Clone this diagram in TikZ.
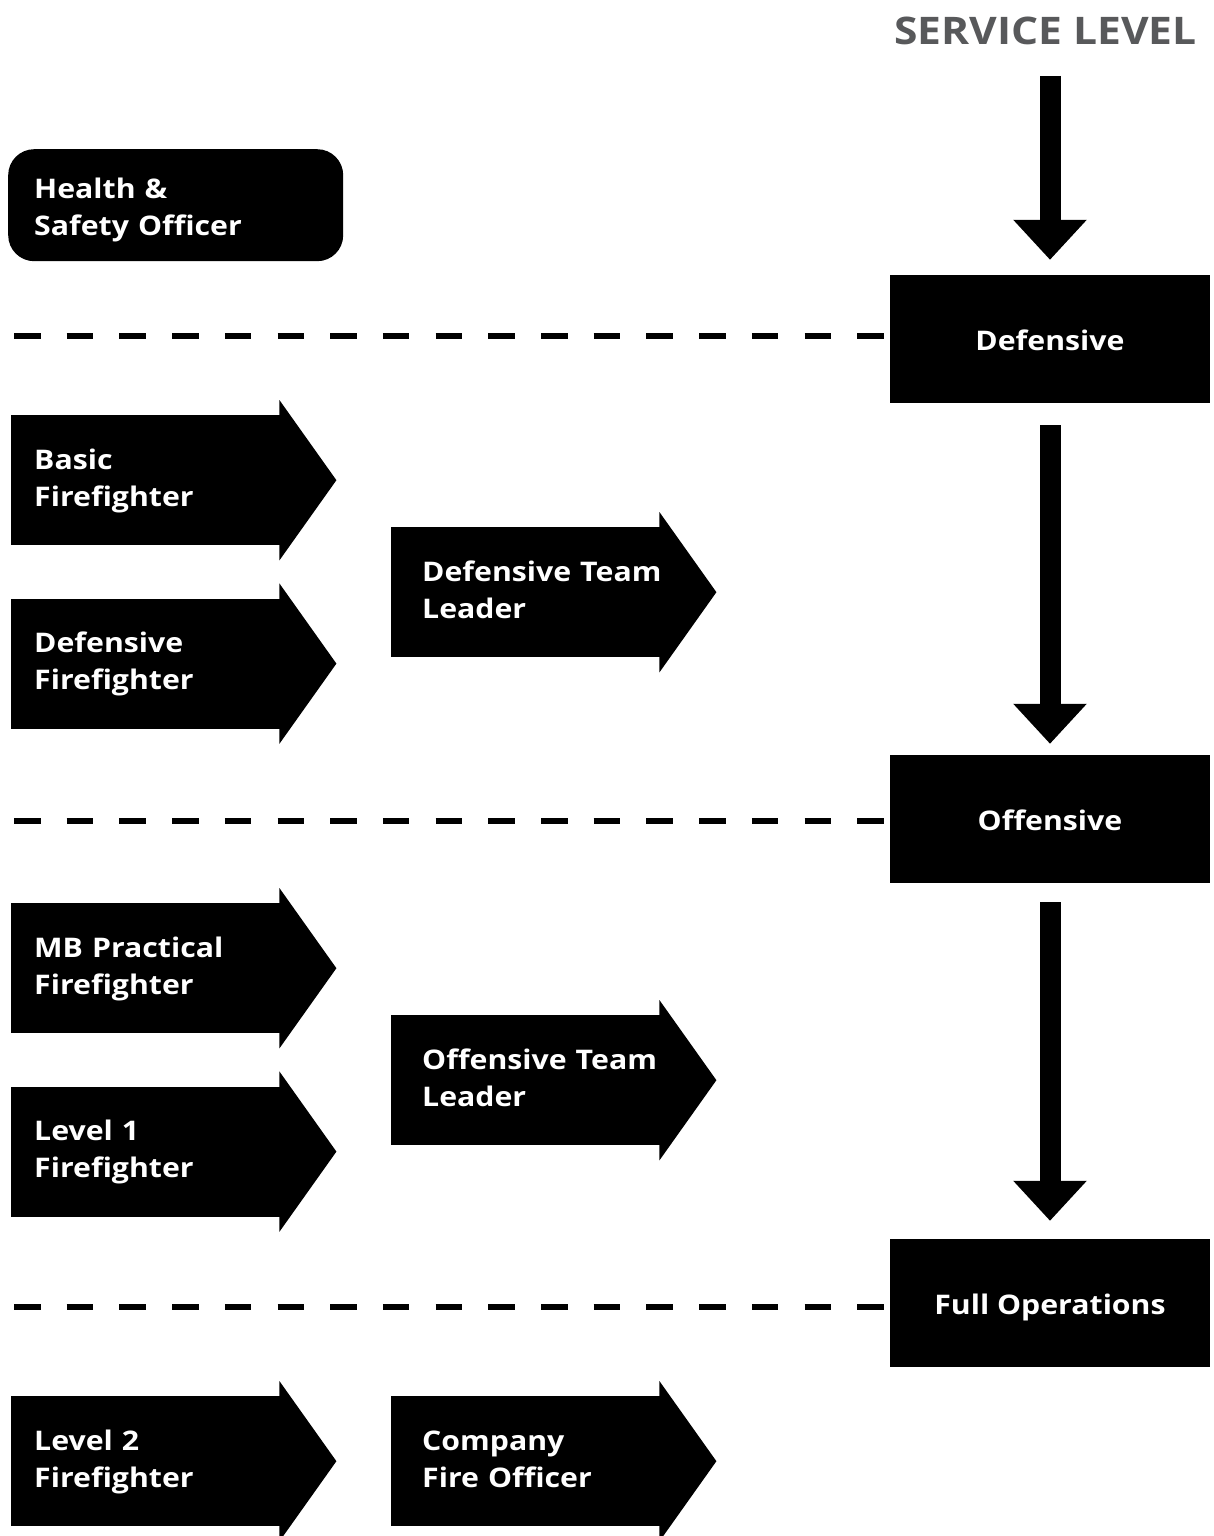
\documentclass[tikz,border=0pt]{standalone}
\usepackage{fontspec}
\setmainfont{Open Sans}[FakeStretch=1.12]
\usetikzlibrary{arrows.meta, positioning}
\definecolor{titlegray}{HTML}{58595B}
\newcommand{\stagefont}{\bfseries\fontsize{27}{37}\selectfont}
\tikzstyle{stage}    = [rectangle, fill=black, text=white, anchor=north west,
                        minimum height=130pt, text width=223pt, inner xsep=23pt,
                        inner ysep=0pt, align=left, font=\stagefont,
                        execute at begin node=\strut, execute at end node=\strut]
\tikzstyle{stage2}   = [stage, text width=207pt, inner xsep=31pt]
\tikzstyle{level}    = [rectangle, fill=black, text=white, minimum width=320pt,
                        minimum height=128pt, text height=22pt, text depth=0pt,
                        font=\stagefont]
\tikzstyle{officer}  = [rectangle, rounded corners=26pt, fill=black, text=white,
                        anchor=north west, minimum height=112pt, text width=283pt,
                        inner xsep=26pt, inner ysep=0pt, align=left, font=\stagefont,
                        execute at begin node=\rule{0pt}{35pt},
                        execute at end node=\strut]
\tikzstyle{downarrow} = [line width=21pt, -{Triangle[width=71pt,length=40pt]}]
\tikzstyle{sepline}  = [line width=6.5pt, dash pattern=on 26.5pt off 26.2pt]

\begin{document}
\begin{tikzpicture}[x=1pt, y=-1pt]
  \clip (0,0) rectangle (1214,1536);
  \fill[white] (0,0) rectangle (1214,1536);

  %% -- Title and service levels --
  \node[font=\bfseries\fontsize{38}{38}\selectfont, text=titlegray, anchor=south east,
        inner sep=0pt] (title) at (1197,45) {SERVICE LEVEL};
  \node[level] (def)  at (1050,339)  {Defensive};
  \node[level] (off)  at (1050,819)  {Offensive};
  \node[level] (full) at (1050,1303) {Full Operations};

  %% -- Officer --
  \node[officer] (hso) at (8,149) {Health \&\\Safety Officer};

  %% -- Defensive stages --
  \node[stage] (basic) at (11,415)  {Basic\\Firefighter};
  \node[stage, below=53pt of basic] (dff) {Defensive\\Firefighter};
  \node[stage2] (dtl)  at (391,527) {Defensive~Team\\Leader};

  %% -- Offensive stages --
  \node[stage] (mbp)   at (11,903)  {MB Practical\\Firefighter};
  \node[stage, below=53pt of mbp] (l1) {Level 1\\Firefighter};
  \node[stage2] (otl)  at (391,1015) {Offensive~Team\\Leader};

  %% -- Full operations stages --
  \node[stage] (l2)    at (11,1396) {Level 2\\Firefighter};
  \node[stage2] (cfo)  at (391,1396) {Company\\Fire~Officer};

  %% -- Arrow heads on the stages --
  \foreach \n in {basic,dff,dtl,mbp,l1,otl,l2,cfo}
    \fill ([shift={(-1pt,15pt)}]\n.north east) -- ([xshift=56pt]\n.east)
          -- ([shift={(-1pt,-15pt)}]\n.south east) -- cycle;

  %% -- Separators --
  \coordinate (s1) at (14,336);
  \coordinate (s2) at (14,821);
  \coordinate (s3) at (14,1307);
  \draw[sepline] (s1) -- (s1 -| def.west);
  \draw[sepline] (s2) -- (s2 -| off.west);
  \draw[sepline] (s3) -- (s3 -| full.west);

  %% -- Arrows --
  \draw[downarrow, shorten <=31pt, shorten >=15pt] (def.north |- title.south) -- (def.north);
  \draw[downarrow, shorten <=22pt, shorten >=11pt] (def.south) -- (off.north);
  \draw[downarrow, shorten <=19pt, shorten >=18pt] (off.south) -- (full.north);

\end{tikzpicture}
\end{document}
